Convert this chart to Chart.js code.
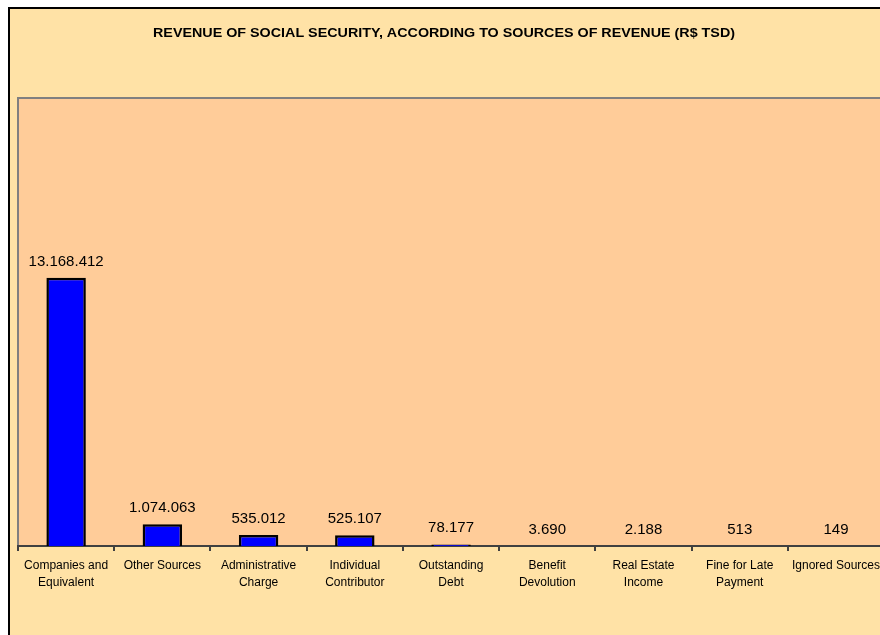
<!DOCTYPE html>
<html>
<head>
<meta charset="utf-8">
<script src="https://cdn.jsdelivr.net/npm/chart.js@4.4.0/dist/chart.umd.min.js"></script>
<style>
html,body{margin:0;padding:0;overflow:hidden;background:#fff;}
canvas{display:block;}
</style>
</head>
<body>
<canvas id="c" width="886" height="635" style="width:886px;height:635px"></canvas>
<script>
const titleText = 'REVENUE OF SOCIAL SECURITY, ACCORDING TO SOURCES OF REVENUE (R$ TSD)';
const categories = [
  ['Companies and','Equivalent'],
  ['Other Sources'],
  ['Administrative','Charge'],
  ['Individual','Contributor'],
  ['Outstanding','Debt'],
  ['Benefit','Devolution'],
  ['Real Estate','Income'],
  ['Fine for Late','Payment'],
  ['Ignored Sources']
];
const revenue = [13168412, 1074063, 535012, 525107, 78177, 3690, 2188, 513, 149];
const valueLabels = ['13.168.412','1.074.063','535.012','525.107','78.177','3.690','2.188','513','149'];
const yMax = 22000000;

const FONT = 'Liberation Sans, Arial, sans-serif';

const backgroundPlugin = {
  id: 'bgp',
  beforeDraw(chart) {
    const ctx = chart.ctx, ca = chart.chartArea;
    ctx.save();
    ctx.fillStyle = '#ffffff';
    ctx.fillRect(0, 0, chart.width, chart.height);
    ctx.fillStyle = '#FFE2A6';
    ctx.fillRect(9, 8, chart.width, chart.height);
    ctx.fillStyle = '#000000';
    ctx.fillRect(8, 7, 2, chart.height);
    ctx.fillRect(8, 7, chart.width, 2);
    // plot area
    ctx.fillStyle = '#FFCC99';
    ctx.fillRect(ca.left, ca.top, ca.right - ca.left, ca.bottom - ca.top);
    ctx.fillStyle = '#808080';
    ctx.fillRect(ca.left - 1, ca.top - 1, ca.right - ca.left + 2, 2);
    ctx.fillRect(ca.left - 1, ca.top - 1, 2, ca.bottom - ca.top + 1);
    // title
    ctx.fillStyle = '#000';
    ctx.font = 'bold 12px ' + FONT;
    ctx.textAlign = 'center';
    ctx.textBaseline = 'middle';
    const w = ctx.measureText(titleText).width;
    const sx = 582 / w;
    ctx.translate(444, 33.5);
    ctx.scale(sx, 1);
    ctx.fillText(titleText, 0, 0);
    ctx.restore();
  },
  afterDatasetsDraw(chart) {
    const ctx = chart.ctx;
    const meta = chart.getDatasetMeta(0);
    ctx.save();
    ctx.fillStyle = '#000';
    ctx.font = '15px ' + FONT;
    ctx.textAlign = 'center';
    ctx.textBaseline = 'alphabetic';
    meta.data.forEach((bar, i) => {
      ctx.fillText(valueLabels[i], bar.x, bar.y - 12);
    });
    ctx.restore();
  }
};

new Chart(document.getElementById('c'), {
  type: 'bar',
  data: {
    labels: categories,
    datasets: [{
      data: revenue,
      backgroundColor: '#0000FF',
      borderColor: '#000000',
      borderWidth: 2.5,
      borderSkipped: 'bottom',
      barPercentage: 0.41,
      categoryPercentage: 1.0
    }]
  },
  options: {
    responsive: false,
    animation: false,
    devicePixelRatio: 1,
    layout: { padding: { left: 18, top: 98, right: 0, bottom: 0 } },
    plugins: { legend: { display: false }, title: { display: false }, tooltip: { enabled: false } },
    scales: {
      y: { display: false, min: 0, max: yMax },
      x: {
        offset: true,
        afterFit(scale) { scale.height = 89; },
        grid: { offset: true, drawOnChartArea: false, drawTicks: true, tickLength: 5, color: '#404040', lineWidth: 2 },
        border: { display: true, color: '#404040', width: 2 },
        ticks: { color: '#000', font: { family: FONT, size: 12, lineHeight: 1.4 }, padding: 6, maxRotation: 0, autoSkip: false }
      }
    }
  },
  plugins: [backgroundPlugin]
});
</script>
</body>
</html>
